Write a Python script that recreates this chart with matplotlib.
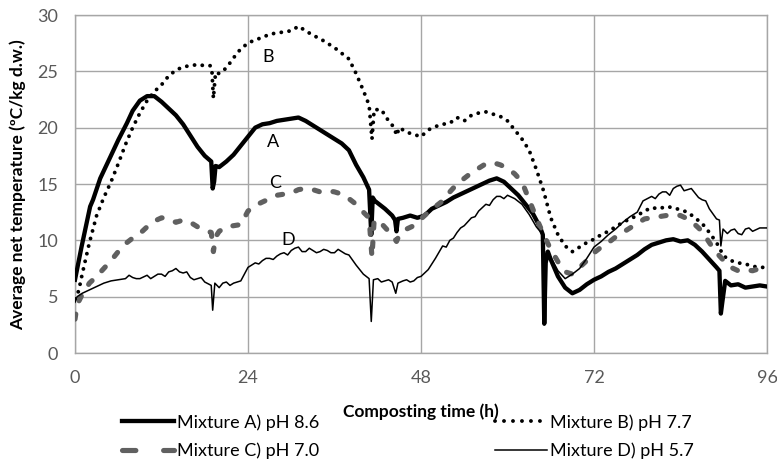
import matplotlib
matplotlib.use("Agg")
import matplotlib.pyplot as plt
from matplotlib.lines import Line2D

plt.rcParams['font.family'] = ['Lato', 'DejaVu Sans']

# ---------------- data ----------------
t_A = [0, 0.9, 2.1, 2.5, 3.5, 4.9, 6, 7.2, 8, 9, 10, 11, 12, 13, 14, 15, 16, 17, 18, 18.9,
       19.1, 19.3, 19.5, 20, 21, 22, 23, 24, 25, 26, 27, 28, 29, 30, 31, 32, 33, 34, 35, 36,
       37, 38, 39, 40, 40.8, 41.1, 41.3, 41.6, 42, 43, 44, 44.4, 44.6, 44.8, 45.5, 46.5,
       47.5, 48.5, 49.5, 50.5, 51.5, 52.5, 53.5, 54.5, 55.5, 56.5, 57.5, 58.5, 59.5, 60.5,
       61.5, 62.5, 63.5, 64.5, 64.9, 65.1, 65.3, 65.6, 66, 67, 68, 69, 70, 71, 72, 73, 74,
       75, 76, 77, 78, 79, 80, 81, 82, 83, 84, 85, 86, 87, 88, 89, 89.4, 89.6, 89.8, 90.2,
       91, 92, 93, 94, 95, 96]
v_A = [6.5, 9.4, 13.0, 13.6, 15.5, 17.4, 18.9, 20.4, 21.5, 22.4, 22.8, 22.8, 22.3, 21.7,
       21.1, 20.3, 19.3, 18.3, 17.5, 17.0, 14.6, 15.2, 16.6, 16.5, 17.0, 17.6, 18.4, 19.2,
       20.0, 20.3, 20.4, 20.6, 20.7, 20.8, 20.9, 20.6, 20.2, 19.8, 19.4, 19.0, 18.6, 18.0,
       16.7, 15.6, 14.5, 10.5, 13.8, 13.5, 13.3, 12.8, 12.2, 11.8, 10.8, 11.9, 12.0, 12.2,
       12.0, 12.2, 12.8, 13.1, 13.4, 13.8, 14.1, 14.4, 14.7, 15.0, 15.3, 15.5, 15.2, 14.6,
       14.0, 13.2, 12.4, 11.2, 10.5, 2.6, 8.0, 9.0, 8.3, 6.8, 5.8, 5.3, 5.6, 6.1, 6.5, 6.8,
       7.2, 7.5, 7.9, 8.3, 8.7, 9.2, 9.6, 9.8, 10.0, 10.1, 9.9, 10.0, 9.6, 9.0, 8.3, 7.6,
       7.3, 3.5, 4.5, 6.4, 6.0, 6.1, 5.8, 5.9, 6.0, 5.9]

t_B = [0, 0.5, 1, 2, 3, 4, 5, 6, 7, 8, 9, 10, 11, 12, 13, 14, 15, 16, 17, 18, 18.8, 19.0,
       19.2, 19.5, 20, 21, 22, 23, 24, 25, 26, 27, 28, 29, 30, 31, 32, 33, 34, 35, 36, 37,
       38, 39, 40, 40.8, 41.2, 41.5, 42.5, 43.5, 44.3, 44.6, 45, 46, 47, 48, 49, 50, 51, 52,
       53, 54, 55, 56, 57, 58, 59, 60, 61, 62, 63, 64, 65, 66, 67, 68, 69, 70, 71, 72, 73,
       74, 75, 76, 77, 78, 79, 80, 81, 82, 83, 84, 85, 86, 87, 88, 89, 90, 91, 92, 93, 94,
       95, 96]
v_B = [4.8, 5.5, 7.0, 9.8, 12.2, 13.8, 15.2, 16.8, 18.5, 20.0, 21.3, 22.4, 23.2, 23.8, 24.6,
       25.1, 25.4, 25.5, 25.6, 25.5, 25.5, 25.0, 22.6, 24.9, 24.8, 25.3, 26.2, 27.0, 27.5,
       27.8, 28.0, 28.3, 28.4, 28.5, 28.6, 29.0, 28.6, 28.2, 27.9, 27.5, 27.1, 26.6, 26.1,
       24.8, 23.3, 22.0, 19.0, 21.6, 21.6, 20.6, 20.0, 19.3, 20.0, 19.6, 19.4, 19.2, 19.8,
       20.1, 20.3, 20.4, 20.9, 20.6, 21.1, 21.3, 21.4, 21.2, 21.0, 20.6, 19.8, 19.0, 18.0,
       16.3, 14.4, 12.0, 10.5, 9.5, 9.0, 9.4, 9.8, 10.1, 10.5, 10.8, 11.2, 11.6, 11.9, 12.2,
       12.6, 12.9, 12.8, 13.0, 12.9, 12.7, 12.5, 12.0, 11.5, 10.7, 9.8, 8.6, 8.2, 8.0, 7.9,
       7.7, 7.6, 7.6]

t_C = [0, 0.3, 1, 2, 3, 4, 5, 6, 7, 8, 9, 10, 11, 12, 13, 14, 15, 16, 17, 18, 18.9, 19.2,
       19.5, 20, 21, 22, 23, 24, 25, 26, 27, 28, 29, 30, 31, 32, 33, 34, 35, 36, 37, 38, 39,
       40, 40.8, 41.2, 41.5, 42.5, 43.5, 44.3, 44.6, 45, 46, 47, 48, 49, 50, 51, 52, 53, 54,
       55, 56, 57, 58, 59, 60, 61, 62, 63, 64, 65, 66, 67, 68, 69, 70, 71, 72, 73, 74, 75,
       76, 77, 78, 79, 80, 81, 82, 83, 84, 85, 86, 87, 88, 89, 90, 91, 92, 93, 94, 95, 96]
v_C = [3.0, 4.3, 5.2, 6.2, 6.8, 7.5, 8.2, 9.0, 9.7, 10.2, 10.6, 11.2, 11.7, 12.0, 11.9, 11.6,
       11.8, 11.6, 11.2, 10.9, 10.7, 9.0, 10.3, 10.8, 11.2, 11.3, 11.4, 12.6, 13.1, 13.4,
       13.7, 14.0, 14.1, 14.2, 14.5, 14.6, 14.5, 14.3, 14.4, 14.3, 14.1, 13.7, 13.2, 12.5,
       12.0, 8.5, 11.8, 11.5, 10.8, 10.2, 9.9, 10.5, 11.0, 11.3, 11.9, 12.5, 13.0, 13.5,
       14.3, 15.0, 15.5, 16.0, 16.4, 16.8, 16.9, 16.7, 16.4, 15.9, 15.2, 13.6, 12.0, 10.5,
       9.2, 8.1, 7.2, 7.0, 7.6, 8.2, 8.9, 9.4, 9.8, 10.3, 10.7, 11.1, 11.5, 11.9, 12.0, 12.1,
       12.2, 12.3, 12.2, 11.9, 11.4, 10.8, 9.8, 8.9, 8.2, 7.6, 7.3, 7.4, 7.3, 7.5, 7.5]

t_D = [0, 0.3, 1, 2, 3, 4, 5, 6, 7, 7.5, 8, 8.5, 9, 10, 10.5, 11, 11.5, 12, 12.5, 13, 13.5,
       14, 14.5, 15, 15.5, 16, 16.5, 17, 17.5, 18, 18.9, 19.1, 19.4, 20, 20.5, 21, 21.5, 22,
       23, 24, 24.5, 25, 25.5, 26, 26.5, 27, 27.5, 28, 28.5, 29, 29.5, 30, 30.5, 31, 31.5,
       32, 32.5, 33, 33.5, 34, 34.5, 35, 35.5, 36, 36.5, 37, 37.5, 38, 39, 40, 40.8, 41.1,
       41.4, 42, 42.5, 43, 43.5, 44, 44.5, 44.8, 45.5, 46, 46.5, 47, 47.5, 48, 49, 50, 51,
       51.5, 52, 52.5, 53, 53.5, 54, 55, 55.5, 56, 56.5, 57, 57.5, 58, 58.5, 59, 59.5, 60,
       61, 62, 63, 64, 64.9, 65.1, 65.4, 66, 67, 68, 69, 70, 71, 72, 73, 74, 75, 76, 77, 78,
       78.8, 80, 80.5, 81, 81.5, 82, 82.5, 83, 83.5, 84, 84.5, 85, 85.5, 86, 86.5, 87, 87.5,
       88, 89, 89.4, 89.6, 89.9, 90.5, 91, 91.5, 92, 92.5, 93, 93.5, 94, 95, 96]
v_D = [4.5, 5.0, 5.3, 5.6, 5.9, 6.2, 6.4, 6.5, 6.6, 6.9, 6.7, 6.6, 6.6, 6.9, 6.6, 6.8, 7.0,
       7.0, 6.8, 7.2, 7.3, 7.5, 7.2, 7.1, 7.2, 6.7, 6.5, 6.6, 6.7, 6.3, 6.0, 3.8, 6.2, 5.8,
       6.2, 6.3, 6.0, 6.2, 6.4, 7.6, 7.8, 8.0, 7.9, 8.2, 8.4, 8.4, 8.3, 8.6, 8.8, 8.9, 8.7,
       9.1, 9.3, 9.4, 9.0, 9.0, 9.3, 9.1, 8.9, 9.0, 9.2, 9.1, 8.9, 8.9, 9.2, 9.0, 8.8, 8.7,
       7.8, 7.0, 6.6, 2.8, 6.5, 6.6, 6.3, 6.4, 6.5, 6.3, 5.3, 6.2, 6.4, 6.5, 6.3, 6.4, 6.7,
       6.8, 7.4, 8.4, 9.5, 9.4, 10.0, 10.2, 10.7, 11.1, 11.3, 12.0, 12.1, 12.6, 12.9, 13.2,
       13.1, 13.6, 13.9, 13.9, 13.7, 14.0, 13.7, 13.2, 12.3, 11.2, 10.5, 2.5, 9.0, 8.5, 7.3,
       6.6, 7.0, 7.5, 8.4, 9.4, 9.9, 10.5, 11.0, 11.6, 12.1, 12.5, 13.5, 13.9, 13.7, 14.1,
       14.3, 14.3, 14.0, 14.6, 14.8, 14.9, 14.4, 14.5, 14.6, 14.2, 13.8, 13.6, 13.5, 12.8,
       11.9, 11.8, 9.5, 11.0, 10.6, 10.9, 11.0, 10.6, 10.5, 11.0, 11.1, 10.8, 11.1, 11.1]

labels = ["Mixture A) pH 8.6", "Mixture B) pH 7.7", "Mixture C) pH 7.0", "Mixture D) pH 5.7"]
x_ticks = [0, 24, 48, 72, 96]
y_ticks = [0, 5, 10, 15, 20, 25, 30]
x_label = "Composting time (h)"
y_label = "Average net temperature (ºC/kg d.w.)"
annot_txt = ["A", "B", "C", "D"]
annot_x = [27.5, 26.8, 27.7, 29.6]
annot_y = [18.7, 26.3, 15.1, 10.0]

# ---------------- figure ----------------
W, H = 777, 461
fig = plt.figure(figsize=(W / 100, H / 100), dpi=100)
ax = fig.add_axes([75 / W, 1 - 353 / H, (767 - 75) / W, (353 - 15) / H])

grid_c = "#a6a6a6"
st_A = dict(color="black", lw=3.1, solid_joinstyle="round")
st_B = dict(color="black", lw=2.8, linestyle=(0, (0.01, 2.0)), dash_capstyle="round")
st_C = dict(color="#606060", lw=3.7, linestyle=(0, (1.0, 2.7)), dash_capstyle="round")
st_D = dict(color="black", lw=1.1)

ax.plot(t_A, v_A, **st_A, zorder=3)
ax.plot(t_B, v_B, **st_B, zorder=3)
ax.plot(t_C, v_C, **st_C, zorder=3)
ax.plot(t_D, v_D, **st_D, zorder=3)

ax.set_xlim(0, 96)
ax.set_ylim(0, 30)
ax.set_xticks(x_ticks)
ax.set_yticks(y_ticks)
ax.grid(True, color=grid_c, lw=1.0)
ax.set_axisbelow(True)
for s in ax.spines.values():
    s.set_color(grid_c)
    s.set_linewidth(1.0)
ax.tick_params(length=0, labelsize=13, colors="#595959")
ax.tick_params(axis="x", pad=12)
ax.tick_params(axis="y", pad=12)

for txt, x, y in zip(annot_txt, annot_x, annot_y):
    ax.text(x, y, txt, fontsize=13, color="black", ha="center", va="center")

fig.text(421 / W, 1 - 412 / H, x_label, ha="center", va="center",
         fontsize=12.5, fontweight="bold", color="black")
fig.text(18 / W, 1 - 185 / H, y_label, ha="center", va="center", rotation=90,
         fontsize=12.5, fontweight="bold", color="black")

hA = Line2D([], [], **st_A)
hB = Line2D([], [], color="black", lw=2.8, linestyle=(0, (0.01, 2.3)), dash_capstyle="round")
hC = Line2D([], [], color="#606060", lw=3.7, linestyle=(0, (2.6, 5.4)), dash_capstyle="round")
hD = Line2D([], [], **st_D)
common = dict(frameon=False, loc="upper left", fontsize=13, handlelength=2.9,
              handletextpad=0.15, labelspacing=0.65, borderpad=0, borderaxespad=0)
leg1 = fig.legend([hA, hC], [labels[0], labels[2]],
                  bbox_to_anchor=(122 / W, 1 - 414 / H), **common)
leg2 = fig.legend([hB, hD], [labels[1], labels[3]],
                  bbox_to_anchor=(495 / W, 1 - 414 / H), **common)

fig.savefig("out.png", dpi=100)
